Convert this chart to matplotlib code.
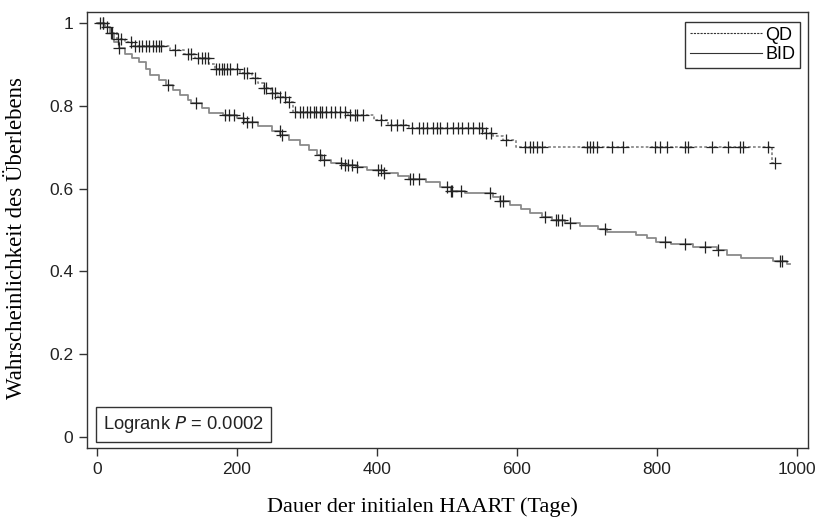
import numpy as np
from matplotlib import pyplot as plt

# Kaplan-Meier steps (time in days, survival after the step)
qd_times = [0, 12, 20, 28, 40, 50, 105, 125, 140, 160, 168, 205, 222, 230, 238, 248,
            258, 270, 280, 358, 395, 415, 445, 552, 565, 580, 598, 964, 969]
qd_surv = [1.0, 0.99, 0.975, 0.962, 0.955, 0.945, 0.935, 0.925, 0.915, 0.90, 0.89, 0.88,
           0.868, 0.855, 0.843, 0.83, 0.822, 0.81, 0.785, 0.778, 0.766, 0.754, 0.746,
           0.735, 0.728, 0.717, 0.700, 0.662, 0.662]
qd_censored = [5, 9, 15, 22, 30, 35, 48, 55, 60, 65, 70, 75, 80, 85, 88, 92, 112, 130,
               135, 145, 150, 155, 158, 170, 175, 178, 182, 186, 190, 200, 210, 215, 226,
               238, 242, 250, 255, 262, 268, 275, 283, 290, 295, 300, 305, 310, 313, 318,
               322, 327, 335, 340, 347, 355, 362, 368, 372, 380, 405, 420, 428, 437, 450,
               460, 465, 472, 480, 485, 490, 500, 508, 515, 522, 530, 537, 545, 550, 556,
               563, 584, 612, 618, 623, 628, 636, 700, 704, 708, 714, 736, 751, 797, 804,
               814, 840, 844, 879, 901, 919, 923, 959, 969]

bid_times = [0, 10, 18, 25, 32, 40, 50, 60, 70, 76, 88, 98, 108, 118, 130, 135, 150, 160,
             180, 200, 210, 230, 250, 262, 275, 290, 303, 315, 322, 335, 350, 370, 385,
             410, 430, 445, 470, 490, 505, 525, 565, 575, 590, 605, 618, 635, 650, 668,
             690, 715, 728, 770, 785, 798, 820, 852, 885, 900, 920, 965, 985, 990]
bid_surv = [1.0, 0.99, 0.975, 0.955, 0.94, 0.925, 0.915, 0.905, 0.89, 0.875, 0.862, 0.85,
            0.838, 0.826, 0.815, 0.807, 0.795, 0.783, 0.778, 0.77, 0.762, 0.752, 0.74,
            0.73, 0.718, 0.706, 0.694, 0.682, 0.67, 0.662, 0.657, 0.652, 0.645, 0.638,
            0.63, 0.624, 0.615, 0.605, 0.595, 0.59, 0.58, 0.57, 0.56, 0.55, 0.54, 0.532,
            0.525, 0.518, 0.51, 0.503, 0.495, 0.488, 0.48, 0.47, 0.465, 0.458, 0.452,
            0.44, 0.432, 0.425, 0.418, 0.418]
bid_censored = [8, 20, 32, 101, 141, 183, 188, 196, 209, 215, 222, 261, 264, 319, 325,
                348, 355, 358, 365, 372, 401, 405, 410, 447, 452, 460, 500, 505, 507, 520,
                561, 576, 580, 640, 655, 659, 664, 676, 726, 811, 840, 869, 887, 975, 979]

x_ticks = [0, 200, 400, 600, 800, 1000]
y_ticks = [0, 0.2, 0.4, 0.6, 0.8, 1]
y_ticklabels = ["0", "0.2", "0.4", "0.6", "0.8", "1"]


def surv_at(times, surv, t):
    idx = np.searchsorted(times, t, side="right") - 1
    return np.array(surv)[idx]


fig = plt.figure(figsize=(8.22, 5.22), dpi=100)
ax = fig.add_axes([0.1058, 0.1418, 0.8772, 0.8352])

ax.plot(qd_times, qd_surv, drawstyle="steps-post", color="#8a8a8a",
        linestyle=(0, (1.5, 1.2)), lw=1.3)
ax.plot(bid_times, bid_surv, drawstyle="steps-post", color="#8a8a8a", lw=1.3)

ax.plot(qd_censored, surv_at(qd_times, qd_surv, qd_censored), "+", color="#222222",
        markersize=8, markeredgewidth=0.9, ls="none")
ax.plot(bid_censored, surv_at(bid_times, bid_surv, bid_censored), "+", color="#222222",
        markersize=8, markeredgewidth=0.9, ls="none")

# legend lines drawn as proxies
h_qd, = ax.plot([], [], color="#333333", linestyle=(0, (2, 1)), lw=0.8)
h_bid, = ax.plot([], [], color="#333333", lw=0.8)
leg = ax.legend([h_qd, h_bid], ["QD", "BID"], loc="upper right",
                handlelength=4.0, handletextpad=0.2, borderpad=0.25, labelspacing=0.15,
                borderaxespad=0, fancybox=False, edgecolor="#333333", framealpha=1,
                prop={"family": "Liberation Sans", "size": 13},
                bbox_to_anchor=(0.989, 0.977))
leg.get_frame().set_linewidth(1.0)

ax.text(0.022, 0.054, "Logrank $\\it{P}$ = 0.0002", transform=ax.transAxes,
        family="Liberation Sans", fontsize=13.2, color="#222222", va="center",
        bbox=dict(boxstyle="square,pad=0.38", fc="white", ec="#333333", lw=1.0))

ax.set_xlim(-14.3, 1015.7)
ax.set_ylim(-0.0266, 1.0266)
ax.set_xticks(x_ticks)
ax.set_yticks(y_ticks)
ax.set_yticklabels(y_ticklabels)
for lab in ax.get_xticklabels() + ax.get_yticklabels():
    lab.set_family("Liberation Sans")
    lab.set_fontsize(12.5)
    lab.set_color("#222222")
ax.tick_params(direction="out", length=6, width=1, color="#333333", pad=4)
for s in ax.spines.values():
    s.set_color("#333333")
    s.set_linewidth(1.0)

fig.text(422 / 822, 1 - 507 / 522, "Dauer der initialen HAART (Tage)",
         family="Liberation Serif", fontsize=16, ha="center", va="center")
fig.text(17 / 822, 1 - 238 / 522, "Wahrscheinlichkeit des Überlebens",
         family="Liberation Serif", fontsize=16.5, ha="center", va="center",
         rotation=90)

plt.savefig("out.png", dpi=100)
